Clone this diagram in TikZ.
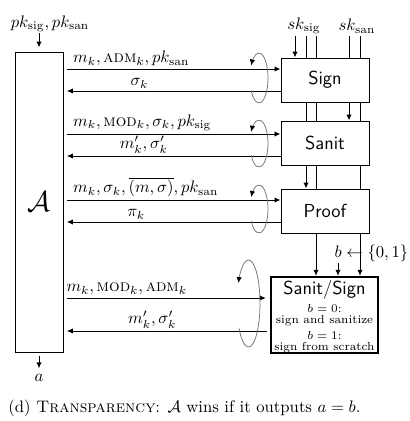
\documentclass[tikz,border=0pt]{standalone}
\usepackage{tikz}
\usetikzlibrary{arrows.meta,positioning}
\tikzset{
      advbox/.style={
        draw,
        semithick,
        minimum width=28.8pt,
        minimum height=180pt,
        font=\fontsize{16pt}{19pt}\selectfont
      },
      algobox/.style={
        draw,
        semithick,
        fill=white,
        minimum width=52.8pt,
        minimum height=26.4pt,
        inner sep=0pt,
        font=\sffamily\fontsize{11.3pt}{13pt}\selectfont
      },
      oraclebox/.style={
        draw,
        line width=1.4pt,
        fill=white,
        minimum width=64.2pt,
        minimum height=45.6pt
      },
      modetext/.style={
        font=\scriptsize,
        align=center,
        inner sep=0pt
      },
      msgfwd/.style={
        above right,
        inner sep=1.5pt,
        xshift=4pt
      },
      msgback/.style={
        above,
        inner sep=1.5pt
      },
      loopline/.style={
        draw=black!55,
        line width=0.45pt,
        -{Latex[length=3.6pt,width=3.2pt,color=black]}
      }
    }

\begin{document}
\begin{tikzpicture}[x=0.6pt,y=-0.6pt,>={Latex[length=3.6pt,width=3.2pt]},semithick]
    \useasboundingbox (0,0) rectangle (410,421);
    \node[advbox] (adv) at (39,202) {$\mathcal{A}$};
    \node (pkin) at (50,24) {$pk_{\mathrm{sig}}, pk_{\mathrm{san}}$};
    \node (aout) at (39,378) {$a$};
    \node[algobox] (sign) at (325,80) {Sign};
    \node[algobox] (sanit) at (325,143) {Sanit};
    \node[algobox] (proof) at (325,211) {Proof};
    \node[oraclebox] (oracle) at (324.5,315) {};
    \node[font=\sffamily\fontsize{11.3pt}{13pt}\selectfont, inner sep=0pt] (oraclename) at (324.5,290) {Sanit/Sign};
    \node[modetext] (mode0) at (324.5,315) {$b=0$:\\[-1.5pt]sign and sanitize};
    \node[modetext] (mode1) at (324.5,342) {$b=1$:\\[-1.5pt]sign from scratch};
    \node (sksig) at (304,26) {$sk_{\mathrm{sig}}$};
    \node (sksan) at (357,26) {$sk_{\mathrm{san}}$};
    \node[anchor=west, inner sep=0pt] (bsample) at (334,253) {$b \leftarrow \{0,1\}$};
    \node[anchor=west, inner sep=0pt] (caption) at (8,408) {(d) \textsc{Transparency}: $\mathcal{A}$ wins if it outputs $a=b$.};
    \coordinate (pkstart) at (39,33);
    \coordinate (sigA) at (295,36);
    \coordinate (sigB) at (306,36);
    \coordinate (sigC) at (316,36);
    \coordinate (sanA) at (349,36);
    \coordinate (sanB) at (360,36);
    \coordinate (bpick) at (338,263);
    \coordinate (loop1) at (259,78);
    \coordinate (loop2) at (259,143.5);
    \coordinate (loop3) at (259,209);
    \coordinate (loop4) at (248.5,303.5);
    \draw[->, shorten >=2.4pt] (pkstart) -- (adv.north);
    \draw[->, shorten <=1.8pt] (adv.south) -- (aout.north);
    \draw[->] (sigA) -- (sigA |- sign.north);
    \draw (sigB) -- (sigB |- sign.north);
    \draw (sigB |- sign.south) -- (sigB |- sanit.north);
    \draw[->] (sigB |- sanit.south) -- (sigB |- proof.north);
    \draw (sigC) -- (sigC |- sign.north);
    \draw (sigC |- sign.south) -- (sigC |- sanit.north);
    \draw (sigC |- sanit.south) -- (sigC |- proof.north);
    \draw[->] (sigC |- proof.south) -- (sigC |- oracle.north);
    \draw (sanA) -- (sanA |- sign.north);
    \draw[->] (sanA |- sign.south) -- (sanA |- sanit.north);
    \draw (sanB) -- (sanB |- sign.north);
    \draw (sanB |- sign.south) -- (sanB |- sanit.north);
    \draw (sanB |- sanit.south) -- (sanB |- proof.north);
    \draw[->] (sanB |- proof.south) -- (sanB |- oracle.north);
    \draw[->] (bpick) -- (bpick |- oracle.north);
    \draw[->, shorten <=1.8pt] (adv.east |- 0,69) -- (sign.west |- 0,69) node[msgfwd, pos=0] {$m_k, \textsc{adm}_k, pk_{\mathrm{san}}$};
    \draw[->, shorten >=2pt] (sign.west |- 0,91) -- (adv.east |- 0,91) node[msgback, pos=0.65] {$\sigma_k$};
    \draw[->, shorten <=1.8pt] (adv.east |- 0,134) -- (sanit.west |- 0,134) node[msgfwd, pos=0] {$m_k, \textsc{mod}_k, \sigma_k, pk_{\mathrm{sig}}$};
    \draw[->, shorten >=2pt] (sanit.west |- 0,156) -- (adv.east |- 0,156) node[msgback, pos=0.63] {$m'_k, \sigma'_k$};
    \draw[->, shorten <=1.8pt] (adv.east |- 0,200) -- (proof.west |- 0,200) node[msgfwd, pos=0] {$m_k, \sigma_k, \overline{(m,\sigma)}, pk_{\mathrm{san}}$};
    \draw[->, shorten >=2pt] (proof.west |- 0,222) -- (adv.east |- 0,222) node[msgback, pos=0.665] {$\pi_k$};
    \draw[->, shorten <=1.8pt, shorten >=2.4pt] (adv.east |- 0,298) -- (oracle.west |- 0,298) node[msgfwd, pos=0, xshift=-4pt] {$m_k, \textsc{mod}_k, \textsc{adm}_k$};
    \draw[->, shorten <=1.5pt, shorten >=2pt] (oracle.west |- 0,331) -- (adv.east |- 0,331) node[msgback, pos=0.57] {$m'_k, \sigma'_k$};
    \draw[loopline] (loop1) ++(150:9 and 25) arc[start angle=150, end angle=-150, x radius=9, y radius=25];
    \draw[loopline] (loop2) ++(150:9 and 23.5) arc[start angle=150, end angle=-150, x radius=9, y radius=23.5];
    \draw[loopline] (loop3) ++(150:9 and 24) arc[start angle=150, end angle=-150, x radius=9, y radius=24];
    \draw[loopline] (loop4) ++(145:11.5 and 43.5) arc[start angle=145, end angle=-152, x radius=11.5, y radius=43.5];
\end{tikzpicture}
\end{document}
